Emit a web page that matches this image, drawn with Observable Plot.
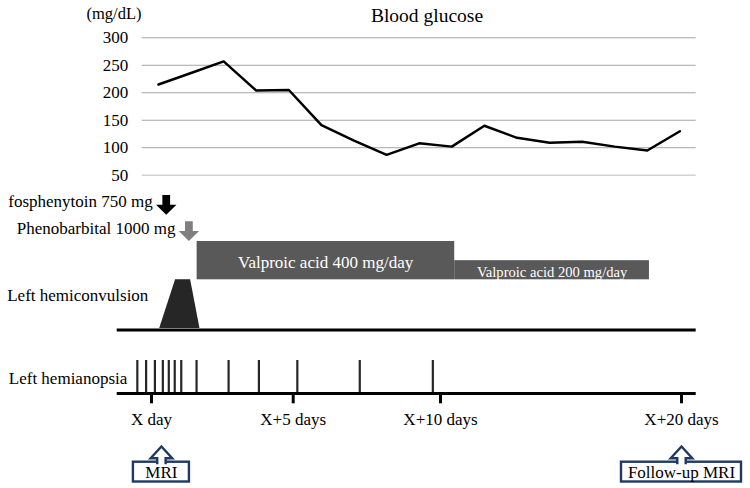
<!DOCTYPE html>
<html>
<head>
<meta charset="utf-8">
<script src="https://cdn.jsdelivr.net/npm/d3@7"></script>
<script src="https://cdn.jsdelivr.net/npm/@observablehq/plot@0.6"></script>
<style>
  body { margin: 0; background: #fff; }
  #chart { width: 750px; height: 488px; }
  #chart svg { display: block; font-family: "Liberation Serif", "Times New Roman", serif !important; }
  #chart svg text { font-family: "Liberation Serif", "Times New Roman", serif !important; }
</style>
</head>
<body>
<div id="chart"></div>
<script>
// Blood glucose, one reading per measurement (mg/dL)
const glucose = [215, 236, 257, 204, 205, 141, 113, 87, 108, 102, 140, 118, 109, 111, 102, 95, 130];
const glucoseTicks = [50, 100, 150, 200, 250, 300];

// Clinical course, in days counted from X day
const dayTicks = [0, 5, 10, 20];
const dayTickLabels = ["X day", "X+5 days", "X+10 days", "X+20 days"];

const bolusLabels = ["fosphenytoin 750 mg", "Phenobarbital 1000 mg"];
const bolusDays = [0.52, 1.32];

const valproicLabels = ["Valproic acid 400 mg/day", "Valproic acid 200 mg/day"];
const valproicDose = [400, 200];
const valproicStart = [1.61, 10.59];
const valproicEnd = [10.59, 18.67];

const convulsionDays = [0.29, 0.85, 1.38, 1.71];
const convulsionLevel = [0, 1, 1, 0];

const hemianopsiaDays = [-0.5, -0.19, 0.12, 0.4, 0.61, 0.82, 1.05, 1.59, 2.72, 3.79, 5.14, 7.26, 9.74];

const mriLabels = ["MRI", "Follow-up MRI"];
const mriDays = [0.35, 20];

// ---- drawing ----
const font = "'Liberation Serif', 'Times New Roman', serif";
const navy = "#1f3864";

// solid block arrow pointing down
const downArrow = {
  draw(ctx, size) {
    const r = Math.sqrt(size / Math.PI);
    const s = 0.38 * r, h = 0.97 * r;
    ctx.moveTo(-s, -h);
    ctx.lineTo(s, -h);
    ctx.lineTo(s, 0);
    ctx.lineTo(r, 0);
    ctx.lineTo(0, h);
    ctx.lineTo(-r, 0);
    ctx.lineTo(-s, 0);
    ctx.closePath();
  }
};

// open outline arrow pointing up, its foot sits on the anchor point
const upArrow = {
  draw(ctx, size) {
    const r = Math.sqrt(size / Math.PI);
    const s = 0.39 * r;
    ctx.moveTo(-s, 0.18 * r);
    ctx.lineTo(-s, -0.37 * r);
    ctx.lineTo(-r, -0.37 * r);
    ctx.lineTo(0, -1.45 * r);
    ctx.lineTo(r, -0.37 * r);
    ctx.lineTo(s, -0.37 * r);
    ctx.lineTo(s, 0.18 * r);
  }
};

const glucoseChart = Plot.plot({
  width: 750,
  height: 185,
  marginLeft: 141.7,
  marginRight: 54.3,
  marginTop: 37.3,
  marginBottom: 10.3,
  style: {fontFamily: font, fontSize: "17px", color: "#000", background: "transparent", overflow: "visible"},
  x: {domain: [-0.5, glucose.length - 0.5], axis: null},
  y: {domain: [50, 300], axis: null},
  marks: [
    Plot.ruleY(glucoseTicks.filter((t) => t > 50), {stroke: "#a6a6a6", strokeWidth: 1}),
    Plot.ruleY([50], {stroke: "#d0d0d0", strokeWidth: 1.6}),
    Plot.text(glucoseTicks, {y: (d) => d, text: (d) => String(d), frameAnchor: "left", textAnchor: "end", dx: -14, fill: "#000", fontFamily: font, fontSize: 17}),
    Plot.line(glucose, {x: (d, i) => i, y: (d) => d, stroke: "#000", strokeWidth: 2.5}),
    Plot.text(["Blood glucose"], {text: (d) => d, frameAnchor: "top", textAnchor: "middle", lineAnchor: "middle", dx: 7.8, dy: -22.3, fontSize: 19.5, fill: "#000", fontFamily: font}),
    Plot.text(["(mg/dL)"], {text: (d) => d, frameAnchor: "top-left", textAnchor: "middle", lineAnchor: "middle", dx: -28.2, dy: -23.8, fontSize: 16.5, fill: "#000", fontFamily: font})
  ]
});

// vertical layout of the course panel (pixels from its top)
const L = {
  bolusText: [16, 43],
  bolusArrow: [19.3, 45.6],
  drugBase: 94.3,
  doseHeight: 0.0957,
  drugText: [77, 86.7],
  drugFont: [17, 14.6],
  convLabel: 110,
  convBase: 143,
  convLine: 144.5,
  hemiLabel: 192.7,
  hemiTop: 175,
  axisLine: 208,
  tickEnd: 218.3,
  tickLabel: 234.3,
  mriTop: 276.7,
  mriBottom: 296.5,
  mriText: 287
};
const mriBoxWidth = [56, 120];
const txt = {fill: "#000", fontFamily: font, fontSize: 17};

const courseChart = Plot.plot({
  width: 750,
  height: 303,
  marginLeft: 116.7,
  marginRight: 54.3,
  marginTop: 0,
  marginBottom: 0,
  style: {fontFamily: font, fontSize: "17px", color: "#000", background: "transparent", overflow: "visible"},
  x: {type: "linear", domain: dayTicks, range: [151, 292.7, 440, 681], axis: null},
  y: {type: "identity", axis: null},
  color: {type: "identity"},
  marks: [
    // valproic acid maintenance, bar height follows the daily dose
    Plot.rect(valproicLabels, {
      x1: (d, i) => valproicStart[i],
      x2: (d, i) => valproicEnd[i],
      y1: (d, i) => L.drugBase - valproicDose[i] * L.doseHeight,
      y2: L.drugBase,
      fill: "#595959"
    }),
    ...valproicLabels.map((label, i) =>
      Plot.text([label], {
        x: () => (valproicStart[i] + valproicEnd[i]) / 2,
        y: L.drugText[i],
        text: (d) => d,
        fill: "#fff",
        fontFamily: font,
        fontSize: L.drugFont[i]
      })
    ),
    // loading doses
    Plot.dot(bolusLabels, {x: (d, i) => bolusDays[i], y: (d, i) => L.bolusArrow[i], symbol: downArrow, r: 10.2, fill: (d, i) => ["#000000", "#7f7f7f"][i], stroke: null}),
    Plot.text(bolusLabels, {x: (d, i) => bolusDays[i], y: (d, i) => L.bolusText[i], text: (d) => d, textAnchor: "end", dx: -13.5, ...txt}),
    // left hemiconvulsion
    Plot.areaY(convulsionDays, {x: (d) => d, y1: L.convBase, y2: (d, i) => L.convBase - convulsionLevel[i] * (L.convBase - L.drugBase), fill: "#262626", curve: "linear"}),
    Plot.ruleY([L.convLine], {stroke: "#000", strokeWidth: 3}),
    Plot.text(["Left hemiconvulsion"], {text: (d) => d, y: L.convLabel, frameAnchor: "left", textAnchor: "start", dx: -110, ...txt}),
    // left hemianopsia episodes
    Plot.ruleX(hemianopsiaDays, {x: (d) => d, y1: L.hemiTop, y2: L.axisLine, stroke: "#262626", strokeWidth: 2.2}),
    Plot.ruleY([L.axisLine], {stroke: "#000", strokeWidth: 3}),
    Plot.text(["Left hemianopsia"], {text: (d) => d, y: L.hemiLabel, frameAnchor: "left", textAnchor: "start", dx: -108.4, ...txt}),
    // day axis
    Plot.ruleX(dayTicks, {x: (d) => d, y1: L.axisLine, y2: L.tickEnd, stroke: "#000", strokeWidth: 3}),
    Plot.text(dayTicks, {x: (d) => d, y: L.tickLabel, text: (d, i) => dayTickLabels[i], ...txt}),
    // imaging
    ...mriLabels.map((label, i) =>
      Plot.rect([label], {
        x1: () => mriDays[i],
        x2: () => mriDays[i],
        y1: L.mriTop,
        y2: L.mriBottom,
        insetLeft: -mriBoxWidth[i] / 2,
        insetRight: -mriBoxWidth[i] / 2,
        fill: "#fff",
        stroke: navy,
        strokeWidth: 2.4
      })
    ),
    Plot.dot(mriLabels, {x: (d, i) => mriDays[i], y: L.mriTop, symbol: upArrow, r: 10.8, fill: "#fff", stroke: navy, strokeWidth: 2.4}),
    Plot.text(mriLabels, {x: (d, i) => mriDays[i], y: L.mriText, text: (d) => d, ...txt})
  ]
});

const chart = document.getElementById("chart");
chart.append(glucoseChart, courseChart);
</script>
</body>
</html>
